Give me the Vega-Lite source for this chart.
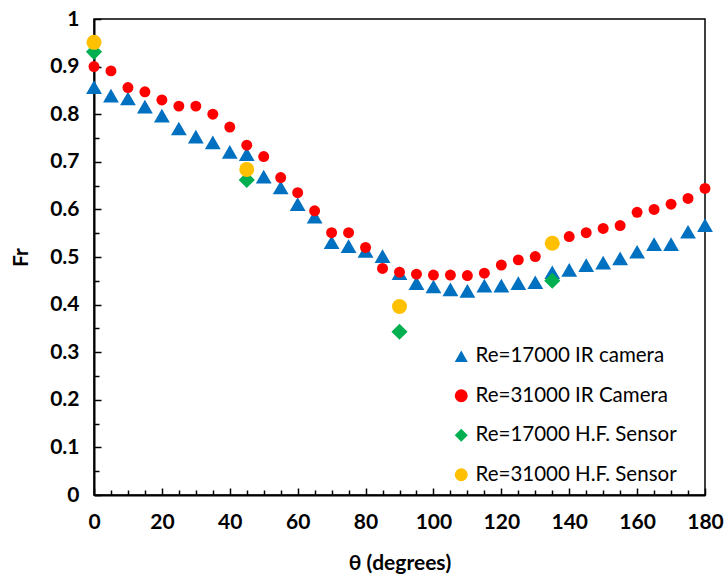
{
  "$schema": "https://vega.github.io/schema/vega-lite/v6.json",
  "width": 611,
  "height": 476,
  "autosize": {"type": "none"},
  "padding": {"left": 94, "top": 19, "right": 20, "bottom": 83},
  "background": "white",
  "config": {
    "font": "Lato",
    "view": {"stroke": "black", "strokeWidth": 1.5},
    "axis": {
      "domainColor": "black",
      "domainWidth": 2,
      "tickColor": "black",
      "tickWidth": 1.5,
      "grid": false,
      "labelFont": "Lato",
      "labelFontWeight": "bold",
      "labelFontSize": 21,
      "labelColor": "black",
      "titleFont": "Lato",
      "titleFontWeight": "bold",
      "titleFontSize": 21,
      "titleColor": "black"
    },
    "legend": {
      "labelFont": "Lato",
      "labelFontSize": 20.5,
      "labelColor": "black",
      "labelLimit": 0,
      "symbolSize": 170,
      "symbolStrokeWidth": 0
    }
  },
  "data": {
    "values": [
      {"theta": 0, "Fr": 0.857, "series": "Re=17000 IR camera"},
      {"theta": 5, "Fr": 0.839, "series": "Re=17000 IR camera"},
      {"theta": 10, "Fr": 0.833, "series": "Re=17000 IR camera"},
      {"theta": 15, "Fr": 0.816, "series": "Re=17000 IR camera"},
      {"theta": 20, "Fr": 0.797, "series": "Re=17000 IR camera"},
      {"theta": 25, "Fr": 0.770, "series": "Re=17000 IR camera"},
      {"theta": 30, "Fr": 0.753, "series": "Re=17000 IR camera"},
      {"theta": 35, "Fr": 0.741, "series": "Re=17000 IR camera"},
      {"theta": 40, "Fr": 0.721, "series": "Re=17000 IR camera"},
      {"theta": 45, "Fr": 0.716, "series": "Re=17000 IR camera"},
      {"theta": 50, "Fr": 0.669, "series": "Re=17000 IR camera"},
      {"theta": 55, "Fr": 0.646, "series": "Re=17000 IR camera"},
      {"theta": 60, "Fr": 0.611, "series": "Re=17000 IR camera"},
      {"theta": 65, "Fr": 0.585, "series": "Re=17000 IR camera"},
      {"theta": 70, "Fr": 0.531, "series": "Re=17000 IR camera"},
      {"theta": 75, "Fr": 0.523, "series": "Re=17000 IR camera"},
      {"theta": 80, "Fr": 0.513, "series": "Re=17000 IR camera"},
      {"theta": 85, "Fr": 0.502, "series": "Re=17000 IR camera"},
      {"theta": 90, "Fr": 0.466, "series": "Re=17000 IR camera"},
      {"theta": 95, "Fr": 0.445, "series": "Re=17000 IR camera"},
      {"theta": 100, "Fr": 0.438, "series": "Re=17000 IR camera"},
      {"theta": 105, "Fr": 0.432, "series": "Re=17000 IR camera"},
      {"theta": 110, "Fr": 0.429, "series": "Re=17000 IR camera"},
      {"theta": 115, "Fr": 0.440, "series": "Re=17000 IR camera"},
      {"theta": 120, "Fr": 0.440, "series": "Re=17000 IR camera"},
      {"theta": 125, "Fr": 0.445, "series": "Re=17000 IR camera"},
      {"theta": 130, "Fr": 0.447, "series": "Re=17000 IR camera"},
      {"theta": 135, "Fr": 0.468, "series": "Re=17000 IR camera"},
      {"theta": 140, "Fr": 0.473, "series": "Re=17000 IR camera"},
      {"theta": 145, "Fr": 0.483, "series": "Re=17000 IR camera"},
      {"theta": 150, "Fr": 0.488, "series": "Re=17000 IR camera"},
      {"theta": 155, "Fr": 0.497, "series": "Re=17000 IR camera"},
      {"theta": 160, "Fr": 0.511, "series": "Re=17000 IR camera"},
      {"theta": 165, "Fr": 0.527, "series": "Re=17000 IR camera"},
      {"theta": 170, "Fr": 0.527, "series": "Re=17000 IR camera"},
      {"theta": 175, "Fr": 0.553, "series": "Re=17000 IR camera"},
      {"theta": 180, "Fr": 0.567, "series": "Re=17000 IR camera"},
      {"theta": 0, "Fr": 0.900, "series": "Re=31000 IR Camera"},
      {"theta": 5, "Fr": 0.891, "series": "Re=31000 IR Camera"},
      {"theta": 10, "Fr": 0.856, "series": "Re=31000 IR Camera"},
      {"theta": 15, "Fr": 0.847, "series": "Re=31000 IR Camera"},
      {"theta": 20, "Fr": 0.830, "series": "Re=31000 IR Camera"},
      {"theta": 25, "Fr": 0.817, "series": "Re=31000 IR Camera"},
      {"theta": 30, "Fr": 0.817, "series": "Re=31000 IR Camera"},
      {"theta": 35, "Fr": 0.800, "series": "Re=31000 IR Camera"},
      {"theta": 40, "Fr": 0.773, "series": "Re=31000 IR Camera"},
      {"theta": 45, "Fr": 0.735, "series": "Re=31000 IR Camera"},
      {"theta": 50, "Fr": 0.711, "series": "Re=31000 IR Camera"},
      {"theta": 55, "Fr": 0.667, "series": "Re=31000 IR Camera"},
      {"theta": 60, "Fr": 0.635, "series": "Re=31000 IR Camera"},
      {"theta": 65, "Fr": 0.597, "series": "Re=31000 IR Camera"},
      {"theta": 70, "Fr": 0.551, "series": "Re=31000 IR Camera"},
      {"theta": 75, "Fr": 0.551, "series": "Re=31000 IR Camera"},
      {"theta": 80, "Fr": 0.520, "series": "Re=31000 IR Camera"},
      {"theta": 85, "Fr": 0.476, "series": "Re=31000 IR Camera"},
      {"theta": 90, "Fr": 0.468, "series": "Re=31000 IR Camera"},
      {"theta": 95, "Fr": 0.464, "series": "Re=31000 IR Camera"},
      {"theta": 100, "Fr": 0.462, "series": "Re=31000 IR Camera"},
      {"theta": 105, "Fr": 0.462, "series": "Re=31000 IR Camera"},
      {"theta": 110, "Fr": 0.461, "series": "Re=31000 IR Camera"},
      {"theta": 115, "Fr": 0.466, "series": "Re=31000 IR Camera"},
      {"theta": 120, "Fr": 0.483, "series": "Re=31000 IR Camera"},
      {"theta": 125, "Fr": 0.494, "series": "Re=31000 IR Camera"},
      {"theta": 130, "Fr": 0.501, "series": "Re=31000 IR Camera"},
      {"theta": 135, "Fr": 0.528, "series": "Re=31000 IR Camera"},
      {"theta": 140, "Fr": 0.543, "series": "Re=31000 IR Camera"},
      {"theta": 145, "Fr": 0.551, "series": "Re=31000 IR Camera"},
      {"theta": 150, "Fr": 0.560, "series": "Re=31000 IR Camera"},
      {"theta": 155, "Fr": 0.566, "series": "Re=31000 IR Camera"},
      {"theta": 160, "Fr": 0.594, "series": "Re=31000 IR Camera"},
      {"theta": 165, "Fr": 0.600, "series": "Re=31000 IR Camera"},
      {"theta": 170, "Fr": 0.611, "series": "Re=31000 IR Camera"},
      {"theta": 175, "Fr": 0.623, "series": "Re=31000 IR Camera"},
      {"theta": 180, "Fr": 0.644, "series": "Re=31000 IR Camera"},
      {"theta": 0, "Fr": 0.931, "series": "Re=17000 H.F. Sensor"},
      {"theta": 45, "Fr": 0.662, "series": "Re=17000 H.F. Sensor"},
      {"theta": 90, "Fr": 0.343, "series": "Re=17000 H.F. Sensor"},
      {"theta": 135, "Fr": 0.450, "series": "Re=17000 H.F. Sensor"},
      {"theta": 0, "Fr": 0.951, "series": "Re=31000 H.F. Sensor"},
      {"theta": 45, "Fr": 0.684, "series": "Re=31000 H.F. Sensor"},
      {"theta": 90, "Fr": 0.396, "series": "Re=31000 H.F. Sensor"},
      {"theta": 135, "Fr": 0.529, "series": "Re=31000 H.F. Sensor"}
    ]
  },
  "encoding": {
    "x": {
      "field": "theta",
      "type": "quantitative",
      "scale": {"domain": [0, 180], "nice": false},
      "axis": {
        "title": "θ (degrees)",
        "values": [0,5,10,15,20,25,30,35,40,45,50,55,60,65,70,75,80,85,90,95,100,105,110,115,120,125,130,135,140,145,150,155,160,165,170,175,180],
        "labelExpr": "datum.value % 20 === 0 ? datum.label : ''",
        "tickSize": {"condition": {"test": "datum.value % 20 === 0", "value": -7}, "value": -5},
        "labelPadding": 23,
        "titlePadding": 18,
        "labelFlush": false,
        "labelOverlap": false
      }
    },
    "y": {
      "field": "Fr",
      "type": "quantitative",
      "scale": {"domain": [0, 1], "nice": false},
      "axis": {
        "title": "Fr",
        "values": [0,0.05,0.1,0.15,0.2,0.25,0.3,0.35,0.4,0.45,0.5,0.55,0.6,0.65,0.7,0.75,0.8,0.85,0.9,0.95,1],
        "labelExpr": "abs(datum.value*10 - round(datum.value*10)) < 0.001 ? format(datum.value, '.1~f') : ''",
        "tickSize": {"condition": {"test": "abs(datum.value*10 - round(datum.value*10)) < 0.001", "value": -7}, "value": -5},
        "labelPadding": 22,
        "titlePadding": 18,
        "labelFlush": false,
        "labelOverlap": false
      }
    },
    "color": {
      "field": "series",
      "type": "nominal",
      "scale": {
        "domain": ["Re=17000 IR camera", "Re=31000 IR Camera", "Re=17000 H.F. Sensor", "Re=31000 H.F. Sensor"],
        "range": ["#0070C0", "#FF0000", "#00B050", "#FFC000"]
      },
      "legend": {
        "title": null,
        "orient": "none",
        "legendX": 357,
        "legendY": 327,
        "padding": 0,
        "rowPadding": 18.5,
        "labelOffset": 4,
        "fillColor": "white",
        "encode": {"symbols": {"enter": {"size": {"value": 170}}, "update": {"size": {"value": 170}}}}
      }
    },
    "shape": {
      "field": "series",
      "type": "nominal",
      "scale": {
        "domain": ["Re=17000 IR camera", "Re=31000 IR Camera", "Re=17000 H.F. Sensor", "Re=31000 H.F. Sensor"],
        "range": ["triangle-up", "circle", "diamond", "circle"]
      },
      "legend": {
        "title": null,
        "orient": "none",
        "legendX": 357,
        "legendY": 327,
        "padding": 0,
        "rowPadding": 18.5,
        "labelOffset": 4,
        "fillColor": "white",
        "encode": {"symbols": {"enter": {"size": {"value": 170}}, "update": {"size": {"value": 170}}}}
      }
    }
  },
  "layer": [
    {
      "transform": [{"filter": "datum.series === 'Re=17000 IR camera'"}],
      "mark": {"type": "point", "filled": true, "opacity": 1, "strokeWidth": 0, "size": 250, "clip": false}
    },
    {
      "transform": [{"filter": "datum.series === 'Re=31000 IR Camera'"}],
      "mark": {"type": "point", "filled": true, "opacity": 1, "strokeWidth": 0, "size": 120, "clip": false}
    },
    {
      "transform": [{"filter": "datum.series === 'Re=17000 H.F. Sensor'"}],
      "mark": {"type": "point", "filled": true, "opacity": 1, "strokeWidth": 0, "size": 260, "clip": false}
    },
    {
      "transform": [{"filter": "datum.series === 'Re=31000 H.F. Sensor'"}],
      "mark": {"type": "point", "filled": true, "opacity": 1, "strokeWidth": 0, "size": 225, "clip": false}
    }
  ]
}
